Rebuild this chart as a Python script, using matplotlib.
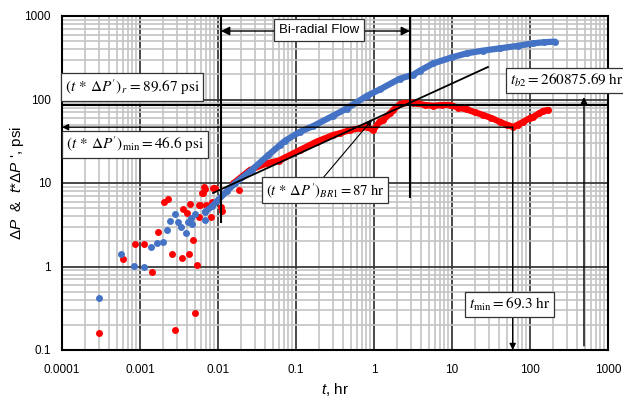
import numpy as np
import matplotlib
matplotlib.use('Agg')
import matplotlib.pyplot as plt
from matplotlib.ticker import LogLocator, NullFormatter

plt.rcParams['font.family'] = ['Liberation Sans', 'DejaVu Sans']
plt.rcParams['mathtext.fontset'] = 'custom'
plt.rcParams['mathtext.rm'] = 'Liberation Sans'
plt.rcParams['mathtext.it'] = 'Liberation Sans:italic'

# pressure change (blue), early scattered points
dp_t_early = [0.0003, 0.000565, 0.00083, 0.00112, 0.0014, 0.00165, 0.00196, 0.0022, 0.00244,
              0.00278, 0.00303, 0.00336, 0.00389, 0.0041, 0.00451, 0.0047, 0.00512, 0.00688]
dp_early = [0.42, 1.41, 1.02, 0.99, 1.73, 1.93, 1.98, 2.7, 3.54,
            4.2, 3.41, 3.0, 2.54, 3.37, 3.85, 3.23, 4.2, 3.6]
# pressure change, dense part
dp_t = [0.0068, 0.0085, 0.0101, 0.013, 0.0165, 0.027, 0.044, 0.0624, 0.0723, 0.112, 0.166,
        0.3, 0.447, 0.806, 1.19, 2.15, 3.19, 3.89, 5.76, 10, 15.4, 25, 41.2, 70, 110, 150, 209]
dp = [4.5, 5.3, 6.3, 8.0, 9.9, 14.3, 21.5, 28.5, 32, 41, 48,
      64, 78, 110, 132, 178, 198, 222, 271, 320, 357, 385, 410, 440, 471, 485, 493]

# pressure derivative (red), early scattered points
der_t_early = [0.0003, 0.0006, 0.00087, 0.00114, 0.00143, 0.00172, 0.00205, 0.00226, 0.00257,
               0.00284, 0.00345, 0.00358, 0.0040, 0.00425, 0.00442, 0.00482, 0.00512, 0.00532,
               0.00564, 0.00571, 0.0059, 0.0062, 0.0065, 0.00658, 0.00688, 0.0071, 0.0081,
               0.0083, 0.0087, 0.0092, 0.0109, 0.0112, 0.0186]
der_early = [0.158, 1.22, 1.86, 1.86, 0.85, 2.61, 5.97, 6.43, 1.42,
             0.175, 1.26, 4.84, 4.33, 1.42, 5.56, 2.06, 0.28, 1.04,
             3.95, 5.46, 5.46, 7.65, 7.5, 9.04, 8.5, 5.46, 3.95,
             6.0, 8.6, 8.6, 5.2, 4.6, 8.2]
# pressure derivative, dense part
der_t = [0.0157, 0.0257, 0.0421, 0.06, 0.112, 0.184, 0.301, 0.366, 0.493, 0.662, 0.806, 0.98,
         1.19, 1.32, 1.6, 1.77, 2.15, 2.38, 3.19, 3.52, 4.5, 5.76, 7.5, 9.43, 12, 15.4, 20,
         25.2, 32, 41.2, 50, 61, 70, 82, 100, 110, 130, 148, 172]
der = [9.9, 14.3, 17.2, 18.5, 24.8, 31.3, 37.6, 39.4, 43.1, 45.2, 47, 43,
       55, 57, 68, 75, 88, 90, 92, 90, 86, 84, 86, 86, 80, 76, 70,
       65, 60, 54, 50, 47, 50, 54, 60, 62, 68, 73, 75]

# bi-radial straight line end points
fit_t = [0.00863, 28.9]
fit_p = [7.59, 245]

x_ticks = [1e-4, 1e-3, 1e-2, 1e-1, 1, 10, 100, 1000]
x_labels = ['0.0001', '0.001', '0.01', '0.1', '1', '10', '100', '1000']
y_ticks = [0.1, 1, 10, 100, 1000]
y_labels = ['0.1', '1', '10', '100', '1000']

blue = '#4472C4'
red = '#FF0000'

fig = plt.figure(figsize=(6.23, 3.99), dpi=100)
ax = fig.add_axes([62 / 623, 1 - 350 / 399, 546 / 623, 334 / 399])
ax.set_xscale('log')
ax.set_yscale('log')
ax.set_xlim(1e-4, 1e3)
ax.set_ylim(0.1, 1000)

ax.set_xticks(x_ticks, x_labels)
ax.set_yticks(y_ticks, y_labels)
ax.xaxis.set_minor_locator(LogLocator(base=10, subs=np.arange(2, 10), numticks=30))
ax.yaxis.set_minor_locator(LogLocator(base=10, subs=np.arange(2, 10), numticks=30))
ax.xaxis.set_minor_formatter(NullFormatter())
ax.yaxis.set_minor_formatter(NullFormatter())
ax.tick_params(which='both', length=0, labelsize=8.5)
ax.tick_params(axis='x', pad=10)
ax.tick_params(axis='y', pad=8)
ax.grid(which='minor', color='#c4c4c4', lw=1.2, zorder=0)
ax.grid(which='major', color='#3a3a3a', lw=1.3, zorder=0)
ax.set_axisbelow(True)
for s in ax.spines.values():
    s.set_linewidth(1.5)
    s.set_color('black')

# data
ax.plot(der_t, der, '-', color=red, lw=4.5, solid_capstyle='round', zorder=3)
ax.plot(der_t, der, 'o', color=red, ms=5, mec='none', zorder=3)
ax.plot(der_t_early, der_early, 'o', color=red, ms=5, mec='none', zorder=3)
ax.plot(dp_t, dp, '-', color=blue, lw=4.5, solid_capstyle='round', zorder=3)
ax.plot(dp_t, dp, 'o', color=blue, ms=5, mec='none', zorder=3)
ax.plot(dp_t_early, dp_early, 'o', color=blue, ms=5, mec='none', zorder=3)

# straight line and marker lines
ax.plot(fit_t, fit_p, color='black', lw=1.3, zorder=4)
ax.axhline(85, color='black', lw=1.5, zorder=4)
ax.plot([0.0109, 0.0109], [1000, 3.41], color='black', lw=1.5, zorder=4)
ax.plot([2.9, 2.9], [1000, 6.8], color='black', lw=1.5, zorder=4)

arrow = dict(arrowstyle='-|>', color='black', lw=1.0, mutation_scale=9, shrinkA=0, shrinkB=0)
ax.annotate('', xy=(1e-4, 46.6), xytext=(60, 46.6), arrowprops=arrow, zorder=4)
ax.annotate('', xy=(60, 0.1), xytext=(60, 46.6), arrowprops=arrow, zorder=4)
ax.annotate('', xy=(492, 107), xytext=(492, 0.112), arrowprops=arrow, zorder=4)
ax.annotate('', xy=(0.94, 56.8), xytext=(0.222, 11.5),
            arrowprops=dict(arrowstyle='-|>', color='black', lw=0.8, mutation_scale=8,
                            shrinkA=0, shrinkB=0), zorder=4)
ax.annotate('', xy=(0.0109, 661), xytext=(0.0523, 661),
            arrowprops=dict(arrowstyle='-|>', color='black', lw=1.0, mutation_scale=13,
                            shrinkA=0, shrinkB=0), zorder=4)
ax.annotate('', xy=(2.9, 661), xytext=(0.745, 661),
            arrowprops=dict(arrowstyle='-|>', color='black', lw=1.0, mutation_scale=13,
                            shrinkA=0, shrinkB=0), zorder=4)

box = dict(boxstyle='square,pad=0.25', fc='white', ec='#333333', lw=0.9)
ax.text(0.197, 679, 'Bi-radial Flow', fontsize=9.5, ha='center', va='center', zorder=5,
        bbox=dict(boxstyle='square,pad=0.35', fc='white', ec='#333333', lw=0.9))
ax.text(0.00079, 141, r"$(t\,*\,\Delta P')_r\,=89.67\ \mathrm{psi}$", math_fontfamily='stix',
        fontsize=11, ha='center', va='center', bbox=box, zorder=5)
ax.text(0.00086, 28.9, r"$(t\,*\,\Delta P')_{\mathrm{min}}=46.6\ \mathrm{psi}$", math_fontfamily='stix',
        fontsize=11, ha='center', va='center', bbox=box, zorder=5)
ax.text(0.235, 8.24, r"$(t\,*\,\Delta P')_{BR\mathrm{1}}=87\ \mathrm{hr}$", math_fontfamily='stix',
        fontsize=10.5, ha='center', va='center', bbox=box, zorder=5)
ax.text(54.6, 0.351, r"$t_{\mathrm{min}}=69.3\ \mathrm{hr}$", math_fontfamily='stix',
        fontsize=11, ha='center', va='center', bbox=box, zorder=5)
ax.text(55, 169, r"$t_{b2}=260875.69\ \mathrm{hr}$", math_fontfamily='stix',
        fontsize=11, ha='left', va='center', bbox=box, zorder=5, clip_on=False)

ax.set_xlabel(r"$t$, hr", fontsize=11, labelpad=4)
ax.set_ylabel(r"Δ$P$  &  $t$*Δ$P$ ', psi", fontsize=11, labelpad=-1)

fig.savefig('out.png', dpi=100)
